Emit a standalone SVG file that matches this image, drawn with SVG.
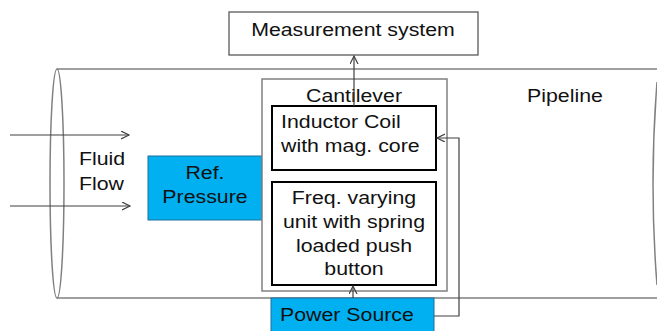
<svg xmlns="http://www.w3.org/2000/svg" width="657" height="331" viewBox="0 0 657 331">
<defs>
<style>
.t{font-family:"Liberation Sans",Arial,sans-serif;font-size:18.7px;fill:#111}
.pipe{fill:none;stroke:#808080;stroke-width:1.5}
.conn{fill:none;stroke:#404040;stroke-width:1.2}
.box{fill:#fff;stroke:#000;stroke-width:2}
.blue{fill:#00b0f0;stroke:#1f6f99;stroke-width:1}
</style>
<marker id="arr" markerUnits="userSpaceOnUse" markerWidth="10" markerHeight="10" refX="8" refY="4" orient="auto">
<path d="M0,0 L8,4 L0,8" fill="none" stroke="#404040" stroke-width="1.2"/>
</marker>
</defs>
<rect width="657" height="331" fill="#fff"/>
<g id="pipeline">
<path class="pipe" d="M57,69 H657 M57,298 H657"/>
<ellipse class="pipe" cx="57" cy="183.5" rx="7" ry="114.5"/>
<path class="pipe" d="M657,82 Q649,184 657,285"/>
<text class="t" transform="translate(527,102) scale(1.14,1)">Pipeline</text>
</g>
<g id="fluid-flow">
<text class="t" transform="translate(79,165) scale(1.14,1)">Fluid</text>
<text class="t" transform="translate(79,190) scale(1.14,1)">Flow</text>
</g>
<g id="measurement-system">
<rect x="229" y="12" width="249" height="43" fill="#fff" stroke="#595959" stroke-width="1.3"/>
<text class="t" text-anchor="middle" transform="translate(353,36) scale(1.14,1)">Measurement system</text>
</g>
<g id="ref-pressure">
<rect class="blue" x="148" y="156" width="114" height="64"/>
<text class="t" text-anchor="middle" transform="translate(205,179) scale(1.14,1)">Ref.</text>
<text class="t" text-anchor="middle" transform="translate(205,203) scale(1.14,1)">Pressure</text>
</g>
<g id="cantilever">
<rect x="262" y="79" width="185" height="212" fill="#fff" stroke="#808080" stroke-width="1.5"/>
<text class="t" text-anchor="middle" transform="translate(354,102) scale(1.14,1)">Cantilever</text>
</g>
<g id="inductor-coil">
<rect class="box" x="272" y="106" width="164" height="64"/>
<text class="t" transform="translate(281,128) scale(1.14,1)">Inductor Coil</text>
<text class="t" transform="translate(281,152) scale(1.14,1)">with mag. core</text>
</g>
<g id="freq-unit">
<rect class="box" x="272" y="182" width="164" height="103"/>
<text class="t" text-anchor="middle" transform="translate(354,204) scale(1.14,1)">Freq. varying</text>
<text class="t" text-anchor="middle" transform="translate(354,228) scale(1.14,1)">unit with spring</text>
<text class="t" text-anchor="middle" transform="translate(354,252) scale(1.14,1)">loaded push</text>
<text class="t" text-anchor="middle" transform="translate(354,275) scale(1.14,1)">button</text>
</g>
<g id="power-source">
<rect class="blue" x="271" y="298" width="163" height="40"/>
<text class="t" transform="translate(280,321) scale(1.14,1)">Power Source</text>
</g>
<g id="connectors">
<path class="conn" d="M10,135 H129" marker-end="url(#arr)"/>
<path class="conn" d="M10,206 H130" marker-end="url(#arr)"/>
<path class="conn" d="M354,106 V56" marker-end="url(#arr)"/>
<path class="conn" d="M434,316 H459 V138 H437" marker-end="url(#arr)"/>
<path class="conn" d="M353,298 V286" marker-end="url(#arr)"/>
</g>
</svg>
